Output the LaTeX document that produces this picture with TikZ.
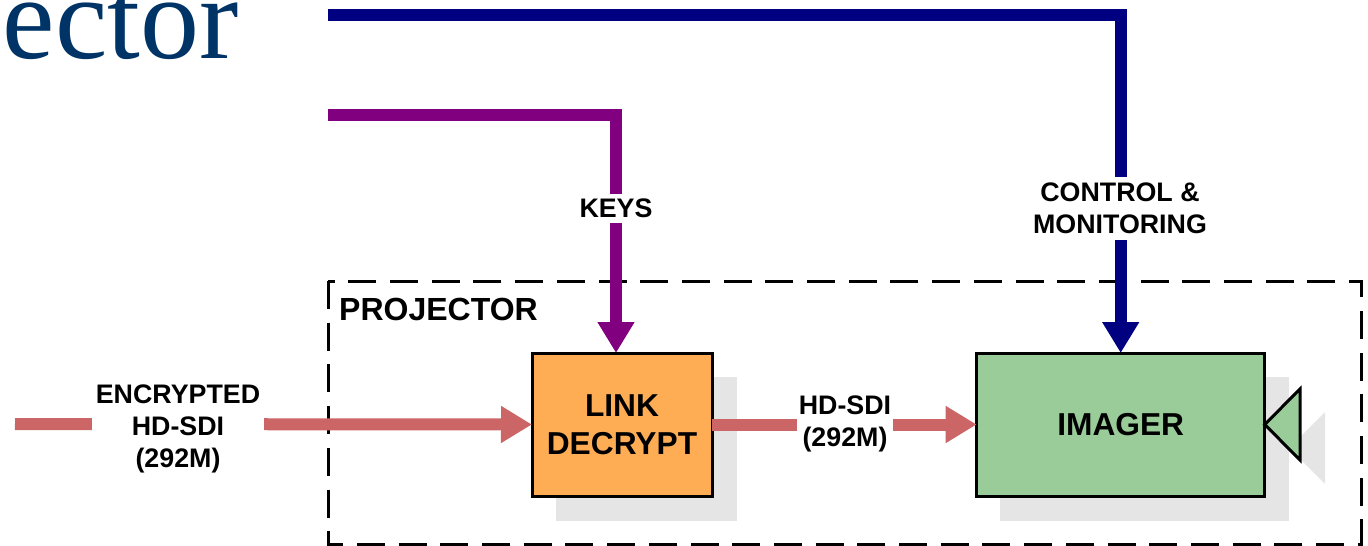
\documentclass[tikz,border=0pt]{standalone}
\usepackage{fontspec}
\setmainfont{Liberation Sans}
\newfontfamily\serifword{Liberation Serif}
\usetikzlibrary{arrows.meta}
\definecolor{shadowgray}{HTML}{E5E5E5}
\definecolor{linkpink}{HTML}{CC6666}
\definecolor{keypurple}{HTML}{800080}
\definecolor{ctrlblue}{HTML}{000080}
\definecolor{boxorange}{HTML}{FFAD55}
\definecolor{boxgreen}{HTML}{99CC99}
\definecolor{titleblue}{HTML}{003366}
\tikzset{
  x=1pt,y=-1pt,
  blockbox/.style={draw=black,line width=3pt,inner sep=0pt,outer sep=0pt,align=center,font=\fontsize{31.7}{37.5}\selectfont\bfseries},
  flow/.style={line width=12pt,-{Triangle[length=31pt,width=35pt]}},
  lbl/.style={fill=white,inner sep=0pt,align=center,font=\fontsize{26.8}{32}\selectfont\bfseries},
}
\begin{document}
\begin{tikzpicture}
\useasboundingbox (0,0) rectangle (1368,546);
% title fragment
\node[anchor=base west,inner sep=0pt,text=titleblue,font=\fontsize{118}{118}\selectfont\serifword] (title) at (2.5,58.5) {ector};
% shadows
\fill[shadowgray] (556,377) rectangle (737,521);
\fill[shadowgray] (1000,377) rectangle (1289,521);
\fill[shadowgray] (1289,448) -- (1325,412) -- (1325,484) -- cycle;
% projector frame
\draw[black,line width=3pt,dash pattern=on 28pt off 13.7pt] (328,281) rectangle (1361,544);
\node[anchor=base west,inner sep=0pt,font=\fontsize{32}{38}\selectfont\bfseries] (proj) at (339,320) {PROJECTOR};
% blocks
\node[blockbox,fill=boxorange,minimum width=180pt,minimum height=143pt] (link) at (622,424.5) {LINK\\DECRYPT};
\node[blockbox,fill=boxgreen,minimum width=288pt,minimum height=143pt] (imager) at (1120.7,424.5) {IMAGER};
\draw[black,fill=boxgreen,line width=3pt,line join=miter] (imager.east) -- (1300,389) -- (1300,460) -- cycle;
% connector ends
\coordinate (encin) at (15,424);
\coordinate (keyfrom) at (328,115);
\coordinate (keyto) at ([xshift=-6pt]link.north);
\coordinate (ctrlfrom) at (328,15);
% connectors
\draw[flow,linkpink] (encin) -- (link.west);
\draw[flow,linkpink] (link.east) -- (imager.west);
\draw[flow,keypurple] (keyfrom) -| (keyto);
\draw[flow,ctrlblue] (ctrlfrom) -| (imager.north);
% labels
\node[lbl,inner xsep=3.5pt] (enc) at (178,429) {ENCRYPTED\\HD-SDI\\(292M)};
\node[lbl,inner xsep=2pt] (hd) at (845,424) {HD-SDI\\(292M)};
\node[lbl,inner xsep=3pt,inner ysep=5pt] (keys) at (616,208.5) {KEYS};
\node[lbl,inner xsep=3pt,inner ysep=6pt] (ctrl) at (1120,208.5) {CONTROL \&\\MONITORING};
\end{tikzpicture}
\end{document}
